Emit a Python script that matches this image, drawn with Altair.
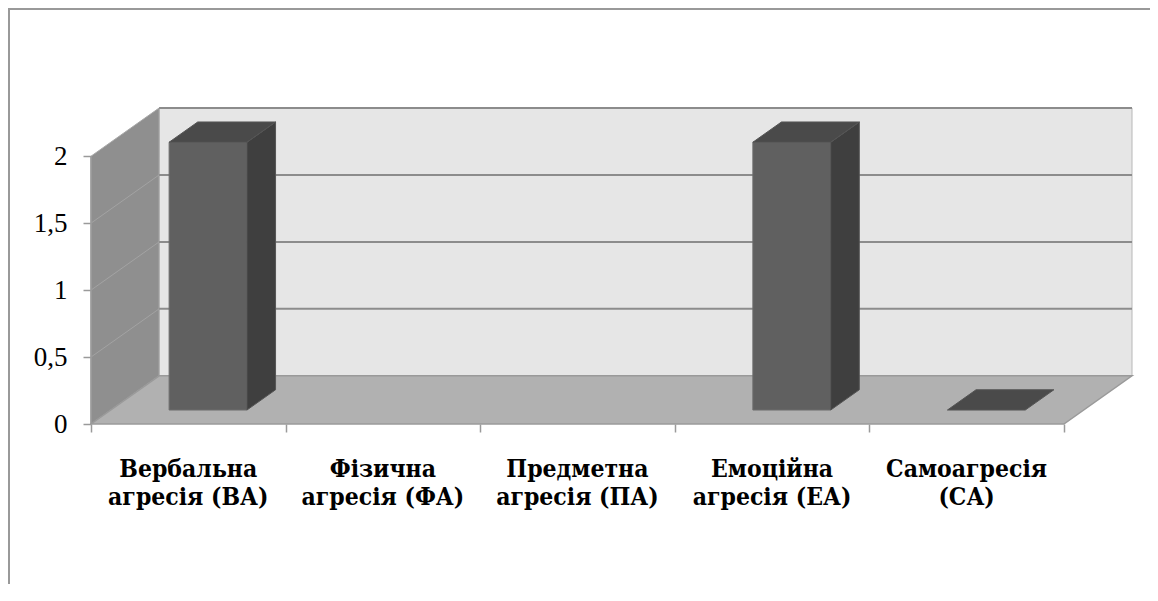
import altair as alt
import pandas as pd

# ---- data ----
categories = ["Вербальна агресія (ВА)", "Фізична агресія (ФА)", "Предметна агресія (ПА)",
              "Емоційна агресія (ЕА)", "Самоагресія (СА)"]
label_lines = ["Вербальна\nагресія (ВА)", "Фізична\nагресія (ФА)", "Предметна\nагресія (ПА)",
               "Емоційна\nагресія (ЕА)", "Самоагресія\n(СА)"]
values = [2, None, None, 2, 0]
y_ticks = [0, 0.5, 1, 1.5, 2]
y_max = 2

# ---- 3D geometry (style constants, in axis units) ----
DX, DY = 0.35, 0.36      # depth offset of the back plane
F1, F2 = 0.29, 0.71      # bar depth (fraction of wall depth)
BL, BR = 0.30, 0.70      # bar left/right inside category
n = len(categories)

W, H = 1041, 316
SERIF = "Times New Roman"
CYR_SERIF = "DejaVu Serif Condensed, DejaVu Serif, serif"
GRAY_EDGE = "#9a9a9a"

xs = alt.Scale(domain=[0, n + DX], nice=False, zero=False)
ys = alt.Scale(domain=[0, y_max + DY], nice=False, zero=False)
xa = alt.Axis(values=list(range(n + 1)), labels=False, domain=False, grid=False, ticks=True,
              tickSize=8, tickColor=GRAY_EDGE, tickWidth=1.5, title=None)
ya = alt.Axis(values=y_ticks, domain=False, grid=False, ticks=True, tickSize=8,
              tickColor=GRAY_EDGE, tickWidth=1.5, labelFont=SERIF, labelFontSize=27,
              labelColor="#000000", labelPadding=16,
              labelExpr="replace(format(datum.value, '~g'), '.', ',')", title=None)


def X(f="x"):
    return alt.X(f + ":Q", scale=xs, axis=xa)


def Y(f="y"):
    return alt.Y(f + ":Q", scale=ys, axis=ya)


back_wall = pd.DataFrame({"x": [DX], "x2": [n + DX], "y": [DY], "y2": [y_max + DY]})
side_wall = pd.DataFrame({"x": [0, DX], "y": [0, DY], "y2": [y_max, y_max + DY]})
floor = pd.DataFrame({"y": [0, DY], "x": [0, DX], "x2": [n, n + DX]})
back_grid = pd.DataFrame({"x": [DX] * 4, "x2": [n + DX] * 4, "y": [v + DY for v in y_ticks[1:]]})
side_grid = pd.DataFrame({"x": [0] * 3, "x2": [DX] * 3,
                          "y": y_ticks[1:4], "y2": [v + DY for v in y_ticks[1:4]]})
left_edge = pd.DataFrame({"x": [0], "y": [0], "y2": [y_max]})

front_rows, side_rows, top_rows = [], [], []
for i, v in enumerate(values):
    if v is None:
        continue
    if v > 0:
        front_rows.append({"x": i + BL + F1 * DX, "x2": i + BR + F1 * DX,
                           "y": F1 * DY, "y2": v + F1 * DY})
        for f in (F1, F2):
            side_rows.append({"id": i, "x": i + BR + f * DX, "y": f * DY, "y2": v + f * DY})
    for f in (F1, F2):
        top_rows.append({"id": i, "y": v + f * DY, "x": i + BL + f * DX, "x2": i + BR + f * DX})
front = pd.DataFrame(front_rows)
side = pd.DataFrame(side_rows)
top = pd.DataFrame(top_rows)
labels = pd.DataFrame({"x": [i + 0.5 for i in range(n)], "y": [0] * n, "label": label_lines})

bw = alt.Chart(back_wall).mark_rect(fill="#e6e6e6", stroke="#b8b8b8", strokeWidth=1).encode(
    x=X(), x2="x2", y=Y(), y2="y2")

sw = alt.Chart(side_wall).mark_area(fill="#8f8f8f", stroke="#a8a8a8", strokeWidth=1).encode(
    x=X(), y=Y(), y2="y2")

fl = alt.Chart(floor).mark_area(orient="horizontal", fill="#b1b1b1", stroke=GRAY_EDGE,
                                strokeWidth=1.5).encode(y=Y(), x=X(), x2="x2")

bg = alt.Chart(back_grid).mark_rule(color="#8c8c8c", strokeWidth=2).encode(
    x=X(), x2="x2", y=Y())

sg = alt.Chart(side_grid).mark_rule(color="#a3a3a3", strokeWidth=1).encode(
    x=X(), x2="x2", y=Y(), y2="y2")

le = alt.Chart(left_edge).mark_rule(color=GRAY_EDGE, strokeWidth=1.5).encode(
    x=X(), y=Y(), y2="y2")

bf = alt.Chart(front).mark_rect(fill="#606060", stroke="#6e6e6e", strokeWidth=1).encode(
    x=X(), x2="x2", y=Y(), y2="y2")

bs = alt.Chart(side).mark_area(fill="#3f3f3f", stroke="#555555", strokeWidth=1).encode(
    x=X(), y=Y(), y2="y2", detail="id:N")

bt = alt.Chart(top).mark_area(orient="horizontal", fill="#4a4a4a", stroke="#555555",
                              strokeWidth=1).encode(
    y=Y(), x=X(), x2="x2", detail="id:N")

tx = alt.Chart(labels).mark_text(lineBreak="\n", font=CYR_SERIF, fontSize=24.5,
                                 fontWeight="bold", color="#000000", align="center",
                                 baseline="alphabetic", dy=53, lineHeight=28).encode(
    x=X(), y=Y(), text="label:N")

frame = alt.Chart(pd.DataFrame({"a": [0]})).mark_rect(
    filled=False, fill="transparent", stroke="#999999", strokeWidth=2
).encode(x=alt.value(-82), y=alt.value(-99), x2=alt.value(3000), y2=alt.value(3000))

chart = alt.layer(bw, sw, fl, bg, sg, le, bf, bs, bt, tx, frame).properties(
    width=W, height=H,
    autosize=alt.AutoSizeParams(type="none"),
    padding={"left": 83, "top": 100, "right": 18, "bottom": 160},
    background="#ffffff",
).configure_view(strokeWidth=0)

chart.save("out.html", embed_options={"renderer": "svg", "actions": False})
